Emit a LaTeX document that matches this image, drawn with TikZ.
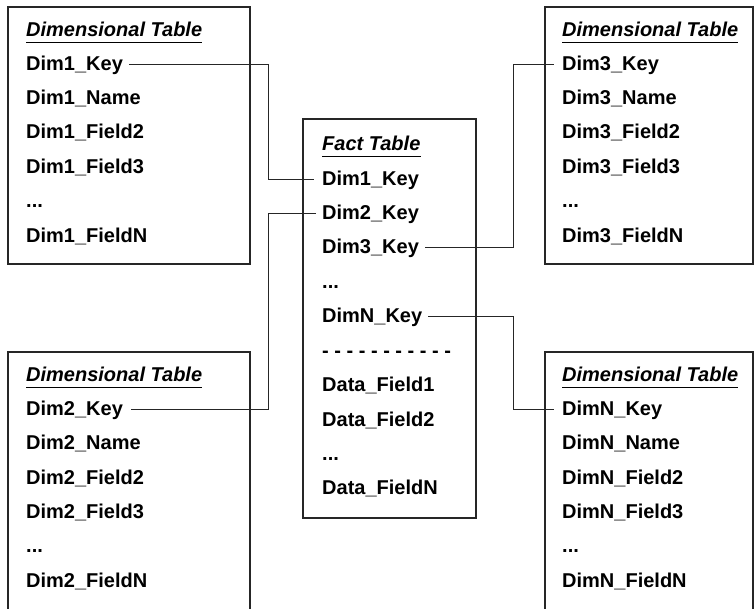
\documentclass[tikz,border=0pt]{standalone}
\usepackage{fontspec}
\setmainfont{Liberation Sans}
\usetikzlibrary{positioning}

\newcommand{\rowdots}{...}
\tikzset{
  row/.style = {anchor=west, inner sep=0pt, text height=15pt, text depth=3pt,
                font=\fontsize{20}{24}\selectfont\bfseries},
  head/.style = {row, text depth=6pt, font=\fontsize{20}{24}\selectfont\bfseries\itshape},
  tbl/.style = {line width=1.1pt, draw=black!85},
  link/.style = {line width=1pt, draw=black!85, shorten <=6pt, shorten >=8pt}
}

\begin{document}
\begin{tikzpicture}[x=1pt, y=-1pt]
  \useasboundingbox (0,0) rectangle (755,609);

  % tables
  \draw[tbl] (8,7) rectangle (250,264);
  \draw[tbl] (545,7) rectangle (753,264);
  \draw[tbl] (303,119) rectangle (476,518);
  \draw[tbl] (8,609) |- (250,352) -- (250,609);
  \draw[tbl] (545,609) |- (753,352) -- (753,609);

  % headings
  \node[head] (h1) at (26,31.7) {Dimensional Table};
  \node[head] (h3) at (562,31.7) {Dimensional Table};
  \node[head] (hf) at (322,145.7) {Fact Table};
  \node[head] (h2) at (26,376.7) {Dimensional Table};
  \node[head] (hN) at (562,376.7) {Dimensional Table};
  \foreach \h in {h1,h3,hf,h2,hN}
    \draw[line width=1pt] (\h.south west) -- (\h.south east);

  % rows
  \foreach \t [count=\i] in {Dim1\_Key, Dim1\_Name, Dim1\_Field2, Dim1\_Field3, \rowdots, Dim1\_FieldN}
    \node[row] (d1r\i) at (26,29.8+34.4*\i) {\t};
  \foreach \t [count=\i] in {Dim3\_Key, Dim3\_Name, Dim3\_Field2, Dim3\_Field3, \rowdots, Dim3\_FieldN}
    \node[row] (d3r\i) at (562,29.8+34.4*\i) {\t};
  \foreach \t [count=\i] in {Dim2\_Key, Dim2\_Name, Dim2\_Field2, Dim2\_Field3, \rowdots, Dim2\_FieldN}
    \node[row] (d2r\i) at (26,374.8+34.4*\i) {\t};
  \foreach \t [count=\i] in {DimN\_Key, DimN\_Name, DimN\_Field2, DimN\_Field3, \rowdots, DimN\_FieldN}
    \node[row] (dNr\i) at (562,374.8+34.4*\i) {\t};
  \foreach \t [count=\i] in {Dim1\_Key, Dim2\_Key, Dim3\_Key, \rowdots, DimN\_Key,
      {- - - - - - - - - - -}, Data\_Field1, Data\_Field2, \rowdots, Data\_FieldN}
    \node[row] (fr\i) at (322,144.8+34.4*\i) {\t};

  % key links
  \coordinate (busL) at (268,0);
  \coordinate (busR) at (513,0);
  \draw[link] (d1r1.east) -- (d1r1.east -| busL) |- (fr1.west);
  \draw[link] (fr2.west) -- (fr2.west -| busL) |- (d2r1.east);
  \draw[link] (fr3.east) -- (fr3.east -| busR) |- (d3r1.west);
  \draw[link] (fr5.east) -- (fr5.east -| busR) |- (dNr1.west);
\end{tikzpicture}
\end{document}
